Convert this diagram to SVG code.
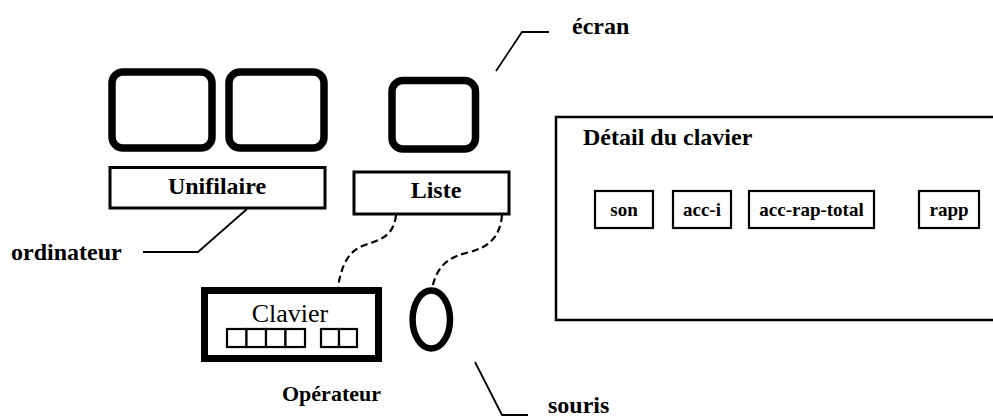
<svg xmlns="http://www.w3.org/2000/svg" width="993" height="417" viewBox="0 0 993 417">
<style>
.monitor{fill:none;stroke:#000;stroke-width:7.5}
.box{fill:#fff;stroke:#000;stroke-width:3}
.key{fill:#fff;stroke:#000;stroke-width:2.2}
.lead{fill:none;stroke:#000;stroke-width:1.8}
.cable{fill:none;stroke:#000;stroke-width:2.2;stroke-dasharray:7 4}
text{font-family:"Liberation Serif","Times New Roman",serif;font-weight:bold;fill:#000}
.lbl{font-size:24px}
.k{font-size:19px;text-anchor:middle}
.c{text-anchor:middle}
</style>
<rect width="993" height="417" fill="#fff"/>
<g id="connectors">
<path class="cable" d="M396,215 C394,236 380,240 365,245 C350,250 342,262 338,287"/>
<path class="cable" d="M502,215 C500,238 488,247 470,252 C452,256 437,263 432,289"/>
<polyline class="lead" points="247,209 198,252 143,252"/>
<polyline class="lead" points="496,71 522,32 549,32"/>
<polyline class="lead" points="475,362 502,415 528,415"/>
</g>
<g id="monitor1"><rect class="monitor" x="112" y="72" width="100" height="76" rx="11"/></g>
<g id="monitor2"><rect class="monitor" x="229" y="72" width="95" height="76" rx="11"/></g>
<g id="monitor3"><rect class="monitor" x="392" y="80.5" width="83.5" height="68.5" rx="11"/></g>
<g id="unifilaire">
<rect class="box" x="110" y="167.5" width="215" height="40.5"/>
<text class="lbl c" x="217" y="194">Unifilaire</text>
</g>
<g id="liste">
<rect class="box" x="354" y="172" width="155" height="42"/>
<text class="lbl c" x="436" y="198">Liste</text>
</g>
<g id="clavier">
<rect x="204.5" y="290.5" width="174" height="68" fill="#fff" stroke="#000" stroke-width="7"/>
<text class="c" x="290" y="322" style="font-size:26px;font-weight:normal">Clavier</text>
<rect class="key" x="227" y="329" width="19.5" height="18"/>
<rect class="key" x="246.5" y="329" width="19.5" height="18"/>
<rect class="key" x="266" y="329" width="19.5" height="18"/>
<rect class="key" x="285.5" y="329" width="19.5" height="18"/>
<rect class="key" x="321" y="329" width="18" height="18"/>
<rect class="key" x="339" y="329" width="18" height="18"/>
</g>
<g id="souris-shape"><ellipse cx="431.3" cy="319.5" rx="18.7" ry="29" fill="none" stroke="#000" stroke-width="6.5"/></g>
<g id="detail">
<rect x="556" y="117" width="450" height="203" fill="none" stroke="#000" stroke-width="2.5"/>
<text x="583" y="145" style="font-size:24px">Détail du clavier</text>
<rect class="key" x="595" y="191" width="58" height="37"/>
<text class="k" x="624" y="216">son</text>
<rect class="key" x="673" y="191" width="58" height="37"/>
<text class="k" x="702" y="216">acc-i</text>
<rect class="key" x="749" y="191" width="125" height="37"/>
<text class="k" x="811.5" y="216">acc-rap-total</text>
<rect class="key" x="919" y="191" width="60" height="37"/>
<text class="k" x="949" y="216">rapp</text>
</g>
<g id="label-ecran"><text class="lbl" x="572" y="34">écran</text></g>
<g id="label-ordinateur"><text class="lbl" x="11" y="260">ordinateur</text></g>
<g id="label-operateur"><text class="lbl" x="282" y="401" style="font-size:22px">Opérateur</text></g>
<g id="label-souris"><text class="lbl" x="548" y="413">souris</text></g>
</svg>
